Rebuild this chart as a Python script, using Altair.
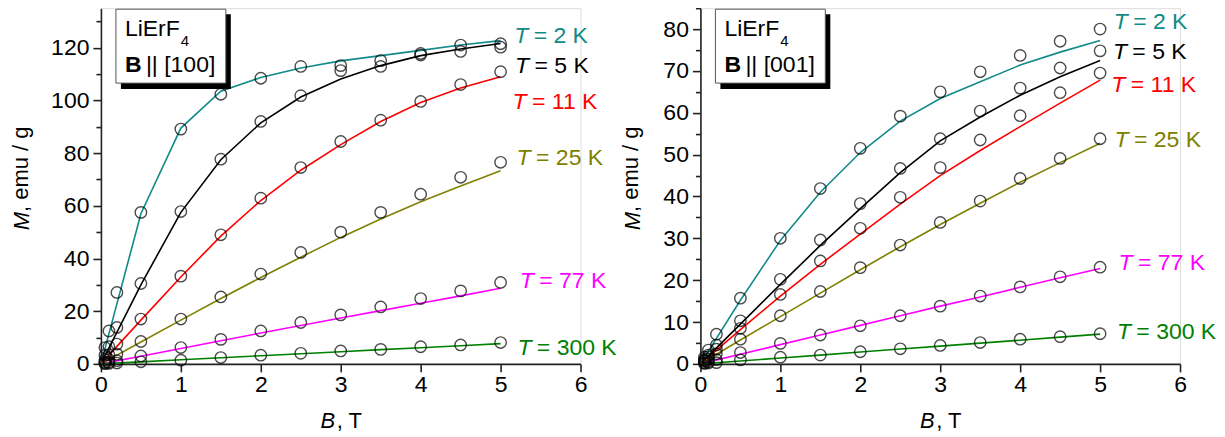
import altair as alt
import pandas as pd

FONT = "Liberation Sans"

SERIES = ["2 K", "5 K", "11 K", "25 K", "77 K", "300 K"]
COLORS = ["#128a8a", "#000000", "#ff0000", "#808000", "#ff00ff", "#008000"]

# measured field values (T)
B_PTS = [0.05, 0.1, 0.2, 0.5, 1, 1.5, 2, 2.5, 3, 3.5, 4, 4.5, 5]
# calculated curves evaluated at
B_FIT = [0, 0.5, 1, 1.5, 2, 2.5, 3, 3.5, 4, 4.5, 5]

# ---- B || [100] : measured magnetization (emu/g)
M100_2K = [6.2, 12.5, 27.1, 57.5, 89.1, 102.3, 108.4, 112.9, 113.2, 115.1, 117.8, 121.0, 121.5]
M100_5K = [3.3, 6.5, 13.8, 30.5, 57.8, 77.7, 92.0, 101.8, 111.3, 112.9, 117.2, 118.6, 120.2]
M100_11K = [1.6, 3.5, 7.5, 17.0, 33.3, 49.0, 62.9, 74.5, 84.4, 92.5, 99.6, 106.0, 110.9]
M100_25K = [0.8, 1.7, 3.7, 8.5, 17.0, 25.4, 34.1, 42.3, 50.0, 57.5, 64.4, 70.8, 76.5]
M100_77K = [0.3, 0.6, 1.2, 3.0, 6.2, 9.3, 12.5, 15.7, 18.6, 21.6, 24.8, 27.7, 30.9]
M100_300K = [0.1, 0.2, 0.3, 0.8, 1.4, 2.4, 3.3, 4.0, 4.9, 5.5, 6.5, 7.2, 8.1]

# ---- B || [100] : calculated curves
F100_2K = [0, 57.0, 89.5, 103.5, 108.7, 112.3, 115.0, 117.0, 119.0, 121.0, 122.7]
F100_5K = [0, 30.0, 57.5, 77.5, 91.5, 101.3, 108.1, 113.2, 117.0, 119.5, 121.6]
F100_11K = [0, 16.6, 33.0, 48.5, 62.0, 73.5, 83.2, 92.0, 99.2, 104.7, 109.0]
F100_25K = [0, 8.3, 16.6, 24.8, 32.8, 40.5, 48.0, 55.0, 61.5, 67.5, 73.3]
F100_77K = [0, 2.9, 5.85, 8.8, 11.7, 14.6, 17.4, 20.2, 23.0, 25.8, 28.7]
F100_300K = [0, 0.77, 1.55, 2.3, 3.1, 3.85, 4.6, 5.4, 6.15, 6.9, 7.7]

# ---- B || [001] : measured magnetization (emu/g)
M001_2K = [1.6, 3.3, 7.1, 15.7, 30.0, 41.9, 51.5, 59.2, 65.0, 69.8, 73.7, 77.1, 80.0]
M001_5K = [1.0, 2.1, 4.5, 10.3, 20.2, 29.6, 38.3, 46.7, 53.8, 60.4, 65.9, 70.7, 74.8]
M001_11K = [0.8, 1.7, 3.5, 8.5, 16.6, 24.6, 32.4, 39.8, 46.9, 53.5, 59.3, 64.8, 69.5]
M001_25K = [0.6, 1.2, 2.4, 5.9, 11.5, 17.3, 23.0, 28.4, 33.8, 38.9, 44.3, 49.1, 53.8]
M001_77K = [0.2, 0.5, 1.0, 2.7, 4.9, 6.9, 9.1, 11.5, 13.8, 16.2, 18.4, 20.8, 23.1]
M001_300K = [0.1, 0.2, 0.3, 0.95, 1.6, 2.1, 2.9, 3.6, 4.4, 5.1, 5.9, 6.5, 7.2]

# ---- B || [001] : calculated curves
F001_2K = [0, 15.2, 29.5, 41.0, 50.5, 58.0, 63.4, 67.4, 71.4, 74.5, 77.3]
F001_5K = [0, 9.5, 19.0, 28.3, 37.1, 45.7, 53.3, 59.0, 64.2, 68.6, 72.5]
F001_11K = [0, 8.2, 16.2, 23.8, 31.0, 38.2, 45.0, 51.0, 56.7, 62.3, 67.8]
F001_25K = [0, 5.7, 11.3, 16.9, 22.5, 28.0, 33.3, 38.4, 43.4, 48.1, 52.7]
F001_77K = [0, 2.3, 4.6, 6.9, 9.2, 11.5, 13.8, 16.0, 18.3, 20.6, 22.8]
F001_300K = [0, 0.7, 1.4, 2.1, 2.85, 3.55, 4.25, 4.95, 5.65, 6.4, 7.1]

# curve label anchors (B, M)
LAB100_B = [5.17, 5.18, 5.15, 5.20, 5.24, 5.21]
LAB100_M = [124.6, 113.2, 99.5, 78.1, 31.5, 6.2]
LAB001_B = [5.17, 5.16, 5.14, 5.18, 5.23, 5.21]
LAB001_M = [81.6, 74.5, 66.6, 53.5, 24.0, 7.5]

X_TICKS = [0, 0.5, 1, 1.5, 2, 2.5, 3, 3.5, 4, 4.5, 5, 5.5, 6]
Y100_TICKS = list(range(0, 131, 10))
Y001_TICKS = list(range(0, 86, 5))

AX = dict(grid=False, domainColor="#222222", domainWidth=1.6, tickColor="#222222",
          tickWidth=1.6, labelFont=FONT, labelColor="black",
          labelFlush=False, labelOverlap=False, title=None)


def panel(fits, pts, lab_b, lab_m, ydom, yticks, ymajor, crystal):
    fit_df = pd.DataFrame([{"B": b, "M": m, "T": s}
                           for s, f in zip(SERIES, fits) for b, m in zip(B_FIT, f)])
    pt_df = pd.DataFrame([{"B": b, "M": m, "T": s}
                          for s, p in zip(SERIES, pts) for b, m in zip(B_PTS, p)])
    lab_df = pd.DataFrame({"B": lab_b, "M": lab_m, "T": SERIES,
                           "rest": ["= " + s for s in SERIES]})
    one = pd.DataFrame({"k": [0]})

    xmaj = "datum.value % 1 === 0"
    ymaj = f"datum.value % {ymajor} === 0"
    xaxis = alt.Axis(values=X_TICKS, format="d",
                     labelExpr=f"{xmaj} ? datum.label : ''",
                     labelFontSize={"condition": {"test": xmaj, "value": 23}, "value": 1},
                     tickSize={"condition": {"test": xmaj, "value": 8}, "value": 5},
                     labelPadding=2, **AX)
    yaxis = alt.Axis(values=yticks, format="d",
                     labelExpr=f"{ymaj} ? datum.label : ''",
                     labelFontSize={"condition": {"test": ymaj, "value": 23}, "value": 1},
                     tickSize={"condition": {"test": ymaj, "value": 8}, "value": 5},
                     labelPadding=4, **AX)
    x = alt.X("B:Q", scale=alt.Scale(domain=[0, 6], nice=False, zero=False), axis=xaxis)
    y = alt.Y("M:Q", scale=alt.Scale(domain=ydom, nice=False), axis=yaxis)
    color = alt.Color("T:N", scale=alt.Scale(domain=SERIES, range=COLORS), legend=None)

    lines = alt.Chart(fit_df).mark_line(strokeWidth=1.6).encode(x=x, y=y, color=color, detail="T:N")
    points = alt.Chart(pt_df).mark_point(shape="circle", filled=False, color="black",
                                         size=130, strokeWidth=1.4).encode(x=x, y=y)
    lab_t = alt.Chart(lab_df).mark_text(text="T", fontStyle="italic", align="left",
                                        baseline="middle", font=FONT, fontSize=23).encode(
        x=x, y=y, color=color)
    lab_r = alt.Chart(lab_df).mark_text(align="left", baseline="middle", dx=19.5,
                                        font=FONT, fontSize=23).encode(
        x=x, y=y, color=color, text="rest:N")

    shadow = alt.Chart(one).mark_rect(color="black").encode(
        x=alt.value(20), x2=alt.value(130), y=alt.value(6), y2=alt.value(81))
    box = alt.Chart(one).mark_rect(fill="white", stroke="#555555", strokeWidth=1).encode(
        x=alt.value(15), x2=alt.value(125), y=alt.value(1), y2=alt.value(75))
    t_li = alt.Chart(one).mark_text(text="LiErF", align="left", baseline="middle",
                                    font=FONT, fontSize=23, color="black").encode(
        x=alt.value(24), y=alt.value(21))
    t_4 = alt.Chart(one).mark_text(text="4", align="left", baseline="middle",
                                   font=FONT, fontSize=15, color="black").encode(
        x=alt.value(80), y=alt.value(33))
    t_b = alt.Chart(one).mark_text(text="B", align="left", baseline="middle", fontWeight="bold",
                                   font=FONT, fontSize=23, color="black").encode(
        x=alt.value(24), y=alt.value(57))
    t_dir = alt.Chart(one).mark_text(text="|| " + crystal, align="left", baseline="middle",
                                     font=FONT, fontSize=23, color="black").encode(
        x=alt.value(45), y=alt.value(57))

    return alt.layer(lines, points, lab_t, lab_r, shadow, box, t_li, t_4, t_b, t_dir)


def titles(yoff):
    one = pd.DataFrame({"k": [0]})
    ym = alt.Chart(one).mark_text(text="M", fontStyle="italic", angle=270, align="right",
                                  baseline="middle", font=FONT, fontSize=22, color="black").encode(
        x=alt.value(yoff), y=alt.value(204))
    yr = alt.Chart(one).mark_text(text=", emu / g", angle=270, align="left", dy=-1.5,
                                  baseline="middle", font=FONT, fontSize=22, color="black").encode(
        x=alt.value(yoff), y=alt.value(204))
    xb = alt.Chart(one).mark_text(text="B", fontStyle="italic", align="right",
                                  baseline="middle", font=FONT, fontSize=22, color="black").encode(
        x=alt.value(234.5), y=alt.value(413))
    xr = alt.Chart(one).mark_text(text=", T", align="left", dx=1.5,
                                  baseline="middle", font=FONT, fontSize=22, color="black").encode(
        x=alt.value(234.5), y=alt.value(413))
    return [ym, yr, xb, xr]


left = alt.layer(
    panel([F100_2K, F100_5K, F100_11K, F100_25K, F100_77K, F100_300K],
          [M100_2K, M100_5K, M100_11K, M100_25K, M100_77K, M100_300K],
          LAB100_B, LAB100_M, [0, 135], Y100_TICKS, 20, "[100]"),
    *titles(-78.5)
).properties(width=480, height=356)

right = alt.layer(
    panel([F001_2K, F001_5K, F001_11K, F001_25K, F001_77K, F001_300K],
          [M001_2K, M001_5K, M001_11K, M001_25K, M001_77K, M001_300K],
          LAB001_B, LAB001_M, [0, 85], Y001_TICKS, 10, "[001]"),
    *titles(-67.5)
).properties(width=480, height=356)

chart = alt.hconcat(left, right, spacing=120, bounds="flush").properties(
    padding={"left": 1, "top": -2, "right": 0, "bottom": 0}
).configure_view(stroke="transparent").configure(background="white")

chart.save("out.html", embed_options={"renderer": "svg", "actions": False})
